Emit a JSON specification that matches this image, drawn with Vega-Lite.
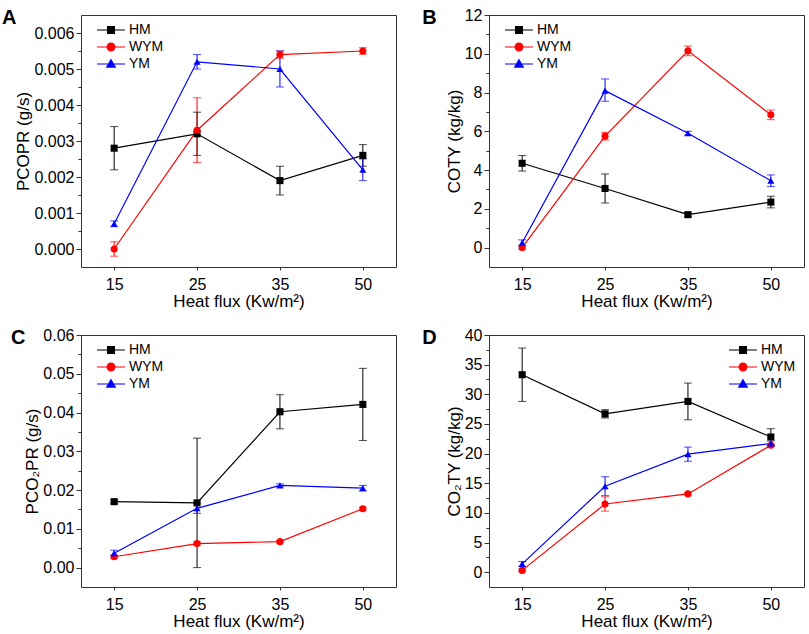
{
  "$schema": "https://vega.github.io/schema/vega-lite/v6.json",
  "padding": {"left": 1, "top": 6, "right": 4, "bottom": 2},
  "config": {
    "font": "Liberation Sans",
    "view": {"stroke": "#333333", "strokeWidth": 1},
    "axis": {
      "labelFont": "Liberation Sans",
      "titleFont": "Liberation Sans",
      "labelFontSize": 16,
      "titleFontSize": 17,
      "titleFontWeight": "normal",
      "labelColor": "#000000",
      "titleColor": "#000000",
      "domain": false,
      "grid": false,
      "tickColor": "#333333",
      "labelOverlap": false
    },
    "axisX": {"tickSize": 3, "labelPadding": 6, "titlePadding": 1, "labelAngle": 0},
    "axisY": {"labelPadding": 2, "titlePadding": 1},
    "legend": {
      "title": null,
      "labelFont": "Liberation Sans",
      "labelFontSize": 14,
      "labelColor": "#000000",
      "symbolSize": 100,
      "symbolStrokeWidth": 1.2,
      "symbolOpacity": 1,
      "labelOffset": 26,
      "rowPadding": 3,
      "padding": 0,
      "offset": 8
    },
    "title": {"font": "Liberation Sans", "fontSize": 20, "fontWeight": "bold", "color": "#000000"}
  },
  "datasets": {
    "a": [
      {"flux": 15, "sample": "HM", "val": 0.0028, "lo": 0.0022, "hi": 0.0034},
      {"flux": 25, "sample": "HM", "val": 0.0032, "lo": 0.0026, "hi": 0.0038},
      {"flux": 35, "sample": "HM", "val": 0.0019, "lo": 0.0015, "hi": 0.0023},
      {"flux": 50, "sample": "HM", "val": 0.0026, "lo": 0.0023, "hi": 0.0029},
      {"flux": 15, "sample": "WYM", "val": 0.0, "lo": -0.0002, "hi": 0.0002},
      {"flux": 25, "sample": "WYM", "val": 0.0033, "lo": 0.0024, "hi": 0.0042},
      {"flux": 35, "sample": "WYM", "val": 0.0054, "lo": 0.0053, "hi": 0.0055},
      {"flux": 50, "sample": "WYM", "val": 0.0055, "lo": 0.00541, "hi": 0.00559},
      {"flux": 15, "sample": "YM", "val": 0.0007, "lo": 0.00062, "hi": 0.00078},
      {"flux": 25, "sample": "YM", "val": 0.0052, "lo": 0.005, "hi": 0.0054},
      {"flux": 35, "sample": "YM", "val": 0.005, "lo": 0.0045, "hi": 0.0055},
      {"flux": 50, "sample": "YM", "val": 0.0022, "lo": 0.0019, "hi": 0.0025}
    ],
    "b": [
      {"flux": 15, "sample": "HM", "val": 4.35, "lo": 3.95, "hi": 4.75},
      {"flux": 25, "sample": "HM", "val": 3.05, "lo": 2.3, "hi": 3.8},
      {"flux": 35, "sample": "HM", "val": 1.7, "lo": 1.6, "hi": 1.8},
      {"flux": 50, "sample": "HM", "val": 2.35, "lo": 2.05, "hi": 2.65},
      {"flux": 15, "sample": "WYM", "val": 0.0, "lo": -0.1, "hi": 0.1},
      {"flux": 25, "sample": "WYM", "val": 5.75, "lo": 5.55, "hi": 5.95},
      {"flux": 35, "sample": "WYM", "val": 10.15, "lo": 9.9, "hi": 10.4},
      {"flux": 50, "sample": "WYM", "val": 6.85, "lo": 6.6, "hi": 7.1},
      {"flux": 15, "sample": "YM", "val": 0.25, "lo": 0.1, "hi": 0.4},
      {"flux": 25, "sample": "YM", "val": 8.1, "lo": 7.55, "hi": 8.7},
      {"flux": 35, "sample": "YM", "val": 5.9, "lo": 5.8, "hi": 6.0},
      {"flux": 50, "sample": "YM", "val": 3.45, "lo": 3.15, "hi": 3.75}
    ],
    "c": [
      {"flux": 15, "sample": "HM", "val": 0.017, "lo": 0.0165, "hi": 0.0175},
      {"flux": 25, "sample": "HM", "val": 0.0167, "lo": 0.0, "hi": 0.0334},
      {"flux": 35, "sample": "HM", "val": 0.0402, "lo": 0.0358, "hi": 0.0446},
      {"flux": 50, "sample": "HM", "val": 0.0421, "lo": 0.0328, "hi": 0.0514},
      {"flux": 15, "sample": "WYM", "val": 0.0028, "lo": 0.0024, "hi": 0.0032},
      {"flux": 25, "sample": "WYM", "val": 0.0062, "lo": 0.0058, "hi": 0.0066},
      {"flux": 35, "sample": "WYM", "val": 0.0067, "lo": 0.0064, "hi": 0.007},
      {"flux": 50, "sample": "WYM", "val": 0.0152, "lo": 0.0148, "hi": 0.0156},
      {"flux": 15, "sample": "YM", "val": 0.0037, "lo": 0.003, "hi": 0.0045},
      {"flux": 25, "sample": "YM", "val": 0.0153, "lo": 0.014, "hi": 0.0166},
      {"flux": 35, "sample": "YM", "val": 0.0212, "lo": 0.0208, "hi": 0.0216},
      {"flux": 50, "sample": "YM", "val": 0.0205, "lo": 0.0198, "hi": 0.0212}
    ],
    "d": [
      {"flux": 15, "sample": "HM", "val": 33.3, "lo": 28.8, "hi": 37.8},
      {"flux": 25, "sample": "HM", "val": 26.7, "lo": 26.0, "hi": 27.4},
      {"flux": 35, "sample": "HM", "val": 28.8, "lo": 25.7, "hi": 31.9},
      {"flux": 50, "sample": "HM", "val": 22.8, "lo": 21.4, "hi": 24.2},
      {"flux": 15, "sample": "WYM", "val": 0.3, "lo": 0.1, "hi": 0.5},
      {"flux": 25, "sample": "WYM", "val": 11.5, "lo": 10.3, "hi": 12.7},
      {"flux": 35, "sample": "WYM", "val": 13.2, "lo": 13.0, "hi": 13.4},
      {"flux": 50, "sample": "WYM", "val": 21.4, "lo": 21.2, "hi": 21.6},
      {"flux": 15, "sample": "YM", "val": 1.4, "lo": 1.0, "hi": 1.8},
      {"flux": 25, "sample": "YM", "val": 14.5, "lo": 12.9, "hi": 16.1},
      {"flux": 35, "sample": "YM", "val": 19.9, "lo": 18.7, "hi": 21.1},
      {"flux": 50, "sample": "YM", "val": 21.7, "lo": 21.3, "hi": 22.1}
    ]
  },
  "columns": 2,
  "spacing": {"row": 16, "column": 24},
  "concat": [
    {
      "data": {"name": "a"},
      "width": 315,
      "height": 252,
      "title": {"text": "A", "orient": "left", "anchor": "end", "frame": "group", "angle": 0, "baseline": "top", "offset": -16, "dy": -7},
      "encoding": {
        "x": {"field": "flux", "type": "ordinal", "scale": {"type": "point", "padding": 0.4}, "title": "Heat flux (Kw/m²)"},
        "color": {"field": "sample", "type": "nominal", "scale": {"domain": ["HM", "WYM", "YM"], "range": ["#000000", "#ff0000", "#0000ff"]},
          "legend": {"orient": "top-left", "encode": {"symbols": {"update": {
            "shape": {"signal": "datum.value === 'HM' ? 'M0.2,0H5.8M2.32,-0.68H3.68V0.68H2.32Z' : datum.value === 'WYM' ? 'M0.2,0H5.8M2.22,0A0.78,0.78 0 1,0 3.78,0A0.78,0.78 0 1,0 2.22,0Z' : 'M0.2,0H5.8M3,-0.85L3.85,0.62L2.15,0.62Z'"},
            "fill": {"signal": "datum.value === 'HM' ? '#000000' : datum.value === 'WYM' ? '#ff0000' : '#0000ff'"},
            "stroke": {"signal": "datum.value === 'HM' ? '#000000' : datum.value === 'WYM' ? '#ff0000' : '#0000ff'"},
            "opacity": {"value": 1}}}}}}
      },
      "layer": [
        {
          "mark": {"type": "rule", "strokeWidth": 1},
          "encoding": {
            "y": {"field": "lo", "type": "quantitative", "title": "PCOPR (g/s)", "scale": {"domain": [-0.0005, 0.0065], "nice": false, "zero": false},
              "axis": {"values": [0, 0.0005, 0.001, 0.0015, 0.002, 0.0025, 0.003, 0.0035, 0.004, 0.0045, 0.005, 0.0055, 0.006], "labelOverlap": false,
                "labelExpr": "abs(datum.value*1000 - round(datum.value*1000)) < 0.01 ? format(datum.value, '.3f') : ''",
                "tickSize": {"condition": {"test": "abs(datum.value*1000 - round(datum.value*1000)) < 0.01", "value": 5}, "value": 3}}},
            "y2": {"field": "hi"}
          }
        },
        {
          "mark": {"type": "tick", "size": 8, "thickness": 1},
          "encoding": {"y": {"field": "lo", "type": "quantitative", "title": "PCOPR (g/s)", "scale": {"domain": [-0.0005, 0.0065], "nice": false, "zero": false},
            "axis": {"values": [0, 0.0005, 0.001, 0.0015, 0.002, 0.0025, 0.003, 0.0035, 0.004, 0.0045, 0.005, 0.0055, 0.006], "labelOverlap": false,
              "labelExpr": "abs(datum.value*1000 - round(datum.value*1000)) < 0.01 ? format(datum.value, '.3f') : ''",
              "tickSize": {"condition": {"test": "abs(datum.value*1000 - round(datum.value*1000)) < 0.01", "value": 5}, "value": 3}}}}
        },
        {
          "mark": {"type": "tick", "size": 8, "thickness": 1},
          "encoding": {"y": {"field": "hi", "type": "quantitative", "title": "PCOPR (g/s)", "scale": {"domain": [-0.0005, 0.0065], "nice": false, "zero": false},
            "axis": {"values": [0, 0.0005, 0.001, 0.0015, 0.002, 0.0025, 0.003, 0.0035, 0.004, 0.0045, 0.005, 0.0055, 0.006], "labelOverlap": false,
              "labelExpr": "abs(datum.value*1000 - round(datum.value*1000)) < 0.01 ? format(datum.value, '.3f') : ''",
              "tickSize": {"condition": {"test": "abs(datum.value*1000 - round(datum.value*1000)) < 0.01", "value": 5}, "value": 3}}}}
        },
        {
          "mark": {"type": "line", "strokeWidth": 1.2},
          "encoding": {"y": {"field": "val", "type": "quantitative", "title": "PCOPR (g/s)", "scale": {"domain": [-0.0005, 0.0065], "nice": false, "zero": false},
            "axis": {"values": [0, 0.0005, 0.001, 0.0015, 0.002, 0.0025, 0.003, 0.0035, 0.004, 0.0045, 0.005, 0.0055, 0.006], "labelOverlap": false,
              "labelExpr": "abs(datum.value*1000 - round(datum.value*1000)) < 0.01 ? format(datum.value, '.3f') : ''",
              "tickSize": {"condition": {"test": "abs(datum.value*1000 - round(datum.value*1000)) < 0.01", "value": 5}, "value": 3}}}}
        },
        {
          "mark": {"type": "point", "filled": true, "opacity": 1, "size": 50},
          "encoding": {
            "y": {"field": "val", "type": "quantitative", "title": "PCOPR (g/s)", "scale": {"domain": [-0.0005, 0.0065], "nice": false, "zero": false},
              "axis": {"values": [0, 0.0005, 0.001, 0.0015, 0.002, 0.0025, 0.003, 0.0035, 0.004, 0.0045, 0.005, 0.0055, 0.006], "labelOverlap": false,
                "labelExpr": "abs(datum.value*1000 - round(datum.value*1000)) < 0.01 ? format(datum.value, '.3f') : ''",
                "tickSize": {"condition": {"test": "abs(datum.value*1000 - round(datum.value*1000)) < 0.01", "value": 5}, "value": 3}}},
            "shape": {"field": "sample", "type": "nominal", "scale": {"domain": ["HM", "WYM", "YM"], "range": ["square", "circle", "triangle-up"]}, "legend": null}
          }
        }
      ]
    },
    {
      "data": {"name": "b"},
      "width": 315,
      "height": 252,
      "title": {"text": "B", "orient": "left", "anchor": "end", "frame": "group", "angle": 0, "baseline": "top", "offset": -6, "dy": -7},
      "encoding": {
        "x": {"field": "flux", "type": "ordinal", "scale": {"type": "point", "padding": 0.4}, "title": "Heat flux (Kw/m²)"},
        "color": {"field": "sample", "type": "nominal", "scale": {"domain": ["HM", "WYM", "YM"], "range": ["#000000", "#ff0000", "#0000ff"]},
          "legend": {"orient": "top-left", "encode": {"symbols": {"update": {
            "shape": {"signal": "datum.value === 'HM' ? 'M0.2,0H5.8M2.32,-0.68H3.68V0.68H2.32Z' : datum.value === 'WYM' ? 'M0.2,0H5.8M2.22,0A0.78,0.78 0 1,0 3.78,0A0.78,0.78 0 1,0 2.22,0Z' : 'M0.2,0H5.8M3,-0.85L3.85,0.62L2.15,0.62Z'"},
            "fill": {"signal": "datum.value === 'HM' ? '#000000' : datum.value === 'WYM' ? '#ff0000' : '#0000ff'"},
            "stroke": {"signal": "datum.value === 'HM' ? '#000000' : datum.value === 'WYM' ? '#ff0000' : '#0000ff'"},
            "opacity": {"value": 1}}}}}}
      },
      "layer": [
        {
          "mark": {"type": "rule", "strokeWidth": 1},
          "encoding": {
            "y": {"field": "lo", "type": "quantitative", "title": "COTY (kg/kg)", "scale": {"domain": [-1, 12], "nice": false, "zero": false},
              "axis": {"values": [0, 1, 2, 3, 4, 5, 6, 7, 8, 9, 10, 11, 12], "labelOverlap": false,
                "labelExpr": "datum.value % 2 == 0 ? format(datum.value, 'd') : ''",
                "tickSize": {"condition": {"test": "datum.value % 2 == 0", "value": 5}, "value": 3}}},
            "y2": {"field": "hi"}
          }
        },
        {
          "mark": {"type": "tick", "size": 8, "thickness": 1},
          "encoding": {"y": {"field": "lo", "type": "quantitative", "title": "COTY (kg/kg)", "scale": {"domain": [-1, 12], "nice": false, "zero": false},
            "axis": {"values": [0, 1, 2, 3, 4, 5, 6, 7, 8, 9, 10, 11, 12], "labelOverlap": false,
              "labelExpr": "datum.value % 2 == 0 ? format(datum.value, 'd') : ''",
              "tickSize": {"condition": {"test": "datum.value % 2 == 0", "value": 5}, "value": 3}}}}
        },
        {
          "mark": {"type": "tick", "size": 8, "thickness": 1},
          "encoding": {"y": {"field": "hi", "type": "quantitative", "title": "COTY (kg/kg)", "scale": {"domain": [-1, 12], "nice": false, "zero": false},
            "axis": {"values": [0, 1, 2, 3, 4, 5, 6, 7, 8, 9, 10, 11, 12], "labelOverlap": false,
              "labelExpr": "datum.value % 2 == 0 ? format(datum.value, 'd') : ''",
              "tickSize": {"condition": {"test": "datum.value % 2 == 0", "value": 5}, "value": 3}}}}
        },
        {
          "mark": {"type": "line", "strokeWidth": 1.2},
          "encoding": {"y": {"field": "val", "type": "quantitative", "title": "COTY (kg/kg)", "scale": {"domain": [-1, 12], "nice": false, "zero": false},
            "axis": {"values": [0, 1, 2, 3, 4, 5, 6, 7, 8, 9, 10, 11, 12], "labelOverlap": false,
              "labelExpr": "datum.value % 2 == 0 ? format(datum.value, 'd') : ''",
              "tickSize": {"condition": {"test": "datum.value % 2 == 0", "value": 5}, "value": 3}}}}
        },
        {
          "mark": {"type": "point", "filled": true, "opacity": 1, "size": 50},
          "encoding": {
            "y": {"field": "val", "type": "quantitative", "title": "COTY (kg/kg)", "scale": {"domain": [-1, 12], "nice": false, "zero": false},
              "axis": {"values": [0, 1, 2, 3, 4, 5, 6, 7, 8, 9, 10, 11, 12], "labelOverlap": false,
                "labelExpr": "datum.value % 2 == 0 ? format(datum.value, 'd') : ''",
                "tickSize": {"condition": {"test": "datum.value % 2 == 0", "value": 5}, "value": 3}}},
            "shape": {"field": "sample", "type": "nominal", "scale": {"domain": ["HM", "WYM", "YM"], "range": ["square", "circle", "triangle-up"]}, "legend": null}
          }
        }
      ]
    },
    {
      "data": {"name": "c"},
      "width": 315,
      "height": 252,
      "title": {"text": "C", "orient": "left", "anchor": "end", "frame": "group", "angle": 0, "baseline": "top", "offset": -16, "dy": -7},
      "encoding": {
        "x": {"field": "flux", "type": "ordinal", "scale": {"type": "point", "padding": 0.4}, "title": "Heat flux (Kw/m²)"},
        "color": {"field": "sample", "type": "nominal", "scale": {"domain": ["HM", "WYM", "YM"], "range": ["#000000", "#ff0000", "#0000ff"]},
          "legend": {"orient": "top-left", "encode": {"symbols": {"update": {
            "shape": {"signal": "datum.value === 'HM' ? 'M0.2,0H5.8M2.32,-0.68H3.68V0.68H2.32Z' : datum.value === 'WYM' ? 'M0.2,0H5.8M2.22,0A0.78,0.78 0 1,0 3.78,0A0.78,0.78 0 1,0 2.22,0Z' : 'M0.2,0H5.8M3,-0.85L3.85,0.62L2.15,0.62Z'"},
            "fill": {"signal": "datum.value === 'HM' ? '#000000' : datum.value === 'WYM' ? '#ff0000' : '#0000ff'"},
            "stroke": {"signal": "datum.value === 'HM' ? '#000000' : datum.value === 'WYM' ? '#ff0000' : '#0000ff'"},
            "opacity": {"value": 1}}}}}}
      },
      "layer": [
        {
          "mark": {"type": "rule", "strokeWidth": 1},
          "encoding": {
            "y": {"field": "lo", "type": "quantitative", "title": "PCO₂PR (g/s)", "scale": {"domain": [-0.005, 0.06], "nice": false, "zero": false},
              "axis": {"values": [0, 0.005, 0.01, 0.015, 0.02, 0.025, 0.03, 0.035, 0.04, 0.045, 0.05, 0.055, 0.06], "labelOverlap": false,
                "labelExpr": "abs(datum.value*100 - round(datum.value*100)) < 0.01 ? format(datum.value, '.2f') : ''",
                "tickSize": {"condition": {"test": "abs(datum.value*100 - round(datum.value*100)) < 0.01", "value": 5}, "value": 3}}},
            "y2": {"field": "hi"}
          }
        },
        {
          "mark": {"type": "tick", "size": 8, "thickness": 1},
          "encoding": {"y": {"field": "lo", "type": "quantitative", "title": "PCO₂PR (g/s)", "scale": {"domain": [-0.005, 0.06], "nice": false, "zero": false},
            "axis": {"values": [0, 0.005, 0.01, 0.015, 0.02, 0.025, 0.03, 0.035, 0.04, 0.045, 0.05, 0.055, 0.06], "labelOverlap": false,
              "labelExpr": "abs(datum.value*100 - round(datum.value*100)) < 0.01 ? format(datum.value, '.2f') : ''",
              "tickSize": {"condition": {"test": "abs(datum.value*100 - round(datum.value*100)) < 0.01", "value": 5}, "value": 3}}}}
        },
        {
          "mark": {"type": "tick", "size": 8, "thickness": 1},
          "encoding": {"y": {"field": "hi", "type": "quantitative", "title": "PCO₂PR (g/s)", "scale": {"domain": [-0.005, 0.06], "nice": false, "zero": false},
            "axis": {"values": [0, 0.005, 0.01, 0.015, 0.02, 0.025, 0.03, 0.035, 0.04, 0.045, 0.05, 0.055, 0.06], "labelOverlap": false,
              "labelExpr": "abs(datum.value*100 - round(datum.value*100)) < 0.01 ? format(datum.value, '.2f') : ''",
              "tickSize": {"condition": {"test": "abs(datum.value*100 - round(datum.value*100)) < 0.01", "value": 5}, "value": 3}}}}
        },
        {
          "mark": {"type": "line", "strokeWidth": 1.2},
          "encoding": {"y": {"field": "val", "type": "quantitative", "title": "PCO₂PR (g/s)", "scale": {"domain": [-0.005, 0.06], "nice": false, "zero": false},
            "axis": {"values": [0, 0.005, 0.01, 0.015, 0.02, 0.025, 0.03, 0.035, 0.04, 0.045, 0.05, 0.055, 0.06], "labelOverlap": false,
              "labelExpr": "abs(datum.value*100 - round(datum.value*100)) < 0.01 ? format(datum.value, '.2f') : ''",
              "tickSize": {"condition": {"test": "abs(datum.value*100 - round(datum.value*100)) < 0.01", "value": 5}, "value": 3}}}}
        },
        {
          "mark": {"type": "point", "filled": true, "opacity": 1, "size": 50},
          "encoding": {
            "y": {"field": "val", "type": "quantitative", "title": "PCO₂PR (g/s)", "scale": {"domain": [-0.005, 0.06], "nice": false, "zero": false},
              "axis": {"values": [0, 0.005, 0.01, 0.015, 0.02, 0.025, 0.03, 0.035, 0.04, 0.045, 0.05, 0.055, 0.06], "labelOverlap": false,
                "labelExpr": "abs(datum.value*100 - round(datum.value*100)) < 0.01 ? format(datum.value, '.2f') : ''",
                "tickSize": {"condition": {"test": "abs(datum.value*100 - round(datum.value*100)) < 0.01", "value": 5}, "value": 3}}},
            "shape": {"field": "sample", "type": "nominal", "scale": {"domain": ["HM", "WYM", "YM"], "range": ["square", "circle", "triangle-up"]}, "legend": null}
          }
        }
      ]
    },
    {
      "data": {"name": "d"},
      "width": 315,
      "height": 252,
      "title": {"text": "D", "orient": "left", "anchor": "end", "frame": "group", "angle": 0, "baseline": "top", "offset": -6, "dy": -7},
      "encoding": {
        "x": {"field": "flux", "type": "ordinal", "scale": {"type": "point", "padding": 0.4}, "title": "Heat flux (Kw/m²)"},
        "color": {"field": "sample", "type": "nominal", "scale": {"domain": ["HM", "WYM", "YM"], "range": ["#000000", "#ff0000", "#0000ff"]},
          "legend": {"orient": "top-right", "encode": {"symbols": {"update": {
            "shape": {"signal": "datum.value === 'HM' ? 'M0.2,0H5.8M2.32,-0.68H3.68V0.68H2.32Z' : datum.value === 'WYM' ? 'M0.2,0H5.8M2.22,0A0.78,0.78 0 1,0 3.78,0A0.78,0.78 0 1,0 2.22,0Z' : 'M0.2,0H5.8M3,-0.85L3.85,0.62L2.15,0.62Z'"},
            "fill": {"signal": "datum.value === 'HM' ? '#000000' : datum.value === 'WYM' ? '#ff0000' : '#0000ff'"},
            "stroke": {"signal": "datum.value === 'HM' ? '#000000' : datum.value === 'WYM' ? '#ff0000' : '#0000ff'"},
            "opacity": {"value": 1}}}}}}
      },
      "layer": [
        {
          "mark": {"type": "rule", "strokeWidth": 1},
          "encoding": {
            "y": {"field": "lo", "type": "quantitative", "title": "CO₂TY (kg/kg)", "scale": {"domain": [-2.5, 40], "nice": false, "zero": false},
              "axis": {"values": [0, 2.5, 5, 7.5, 10, 12.5, 15, 17.5, 20, 22.5, 25, 27.5, 30, 32.5, 35, 37.5, 40], "labelOverlap": false,
                "labelExpr": "datum.value % 5 == 0 ? format(datum.value, 'd') : ''",
                "tickSize": {"condition": {"test": "datum.value % 5 == 0", "value": 5}, "value": 3}}},
            "y2": {"field": "hi"}
          }
        },
        {
          "mark": {"type": "tick", "size": 8, "thickness": 1},
          "encoding": {"y": {"field": "lo", "type": "quantitative", "title": "CO₂TY (kg/kg)", "scale": {"domain": [-2.5, 40], "nice": false, "zero": false},
            "axis": {"values": [0, 2.5, 5, 7.5, 10, 12.5, 15, 17.5, 20, 22.5, 25, 27.5, 30, 32.5, 35, 37.5, 40], "labelOverlap": false,
              "labelExpr": "datum.value % 5 == 0 ? format(datum.value, 'd') : ''",
              "tickSize": {"condition": {"test": "datum.value % 5 == 0", "value": 5}, "value": 3}}}}
        },
        {
          "mark": {"type": "tick", "size": 8, "thickness": 1},
          "encoding": {"y": {"field": "hi", "type": "quantitative", "title": "CO₂TY (kg/kg)", "scale": {"domain": [-2.5, 40], "nice": false, "zero": false},
            "axis": {"values": [0, 2.5, 5, 7.5, 10, 12.5, 15, 17.5, 20, 22.5, 25, 27.5, 30, 32.5, 35, 37.5, 40], "labelOverlap": false,
              "labelExpr": "datum.value % 5 == 0 ? format(datum.value, 'd') : ''",
              "tickSize": {"condition": {"test": "datum.value % 5 == 0", "value": 5}, "value": 3}}}}
        },
        {
          "mark": {"type": "line", "strokeWidth": 1.2},
          "encoding": {"y": {"field": "val", "type": "quantitative", "title": "CO₂TY (kg/kg)", "scale": {"domain": [-2.5, 40], "nice": false, "zero": false},
            "axis": {"values": [0, 2.5, 5, 7.5, 10, 12.5, 15, 17.5, 20, 22.5, 25, 27.5, 30, 32.5, 35, 37.5, 40], "labelOverlap": false,
              "labelExpr": "datum.value % 5 == 0 ? format(datum.value, 'd') : ''",
              "tickSize": {"condition": {"test": "datum.value % 5 == 0", "value": 5}, "value": 3}}}}
        },
        {
          "mark": {"type": "point", "filled": true, "opacity": 1, "size": 50},
          "encoding": {
            "y": {"field": "val", "type": "quantitative", "title": "CO₂TY (kg/kg)", "scale": {"domain": [-2.5, 40], "nice": false, "zero": false},
              "axis": {"values": [0, 2.5, 5, 7.5, 10, 12.5, 15, 17.5, 20, 22.5, 25, 27.5, 30, 32.5, 35, 37.5, 40], "labelOverlap": false,
                "labelExpr": "datum.value % 5 == 0 ? format(datum.value, 'd') : ''",
                "tickSize": {"condition": {"test": "datum.value % 5 == 0", "value": 5}, "value": 3}}},
            "shape": {"field": "sample", "type": "nominal", "scale": {"domain": ["HM", "WYM", "YM"], "range": ["square", "circle", "triangle-up"]}, "legend": null}
          }
        }
      ]
    }
  ]
}
